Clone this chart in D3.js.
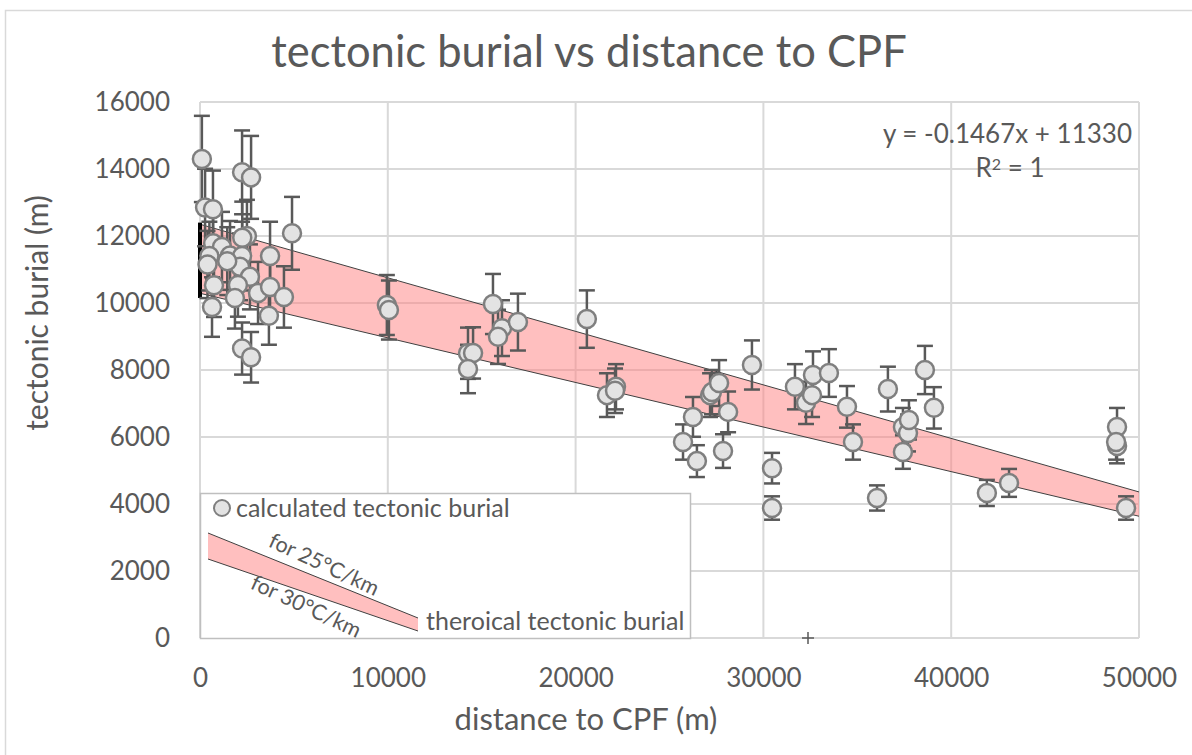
<!DOCTYPE html>
<html><head><meta charset="utf-8">
<script src="https://cdn.jsdelivr.net/npm/d3@7"></script>
<style>html,body{margin:0;padding:0;background:#fff;}svg{display:block;font-family:Lato,"Open Sans",sans-serif;}</style>
</head><body>
<svg id="c" width="1192" height="755"></svg>
<script>
const distance = [100,2240,2720,270,690,2500,2250,4900,700,1170,1600,2240,3730,500,2130,2660,2020,745,3090,3730,4470,1860,640,3670,2240,2720,400,1450,
 9950,10060,14270,14540,14270,15600,16080,15870,16930,20600,21670,22150,22100,25720,26250,26460,27160,27260,27640,28120,27850,29390,30460,30460,
 31680,32270,32590,32640,33490,34450,34770,36050,36630,37430,37700,37750,37430,38600,39080,41900,43080,48830,48830,48780,49310];
const burial = [14300,13900,13750,12850,12800,12000,11950,12080,11780,11670,11420,11400,11400,11400,11080,10780,10540,10530,10300,10480,10180,10150,9880,9620,8640,8380,11150,11250,
 9940,9790,8500,8510,8030,9970,9250,8990,9430,9520,7250,7500,7380,5850,6600,5280,7250,7340,7610,6750,5580,8150,5070,3880,
 7500,7020,7250,7850,7910,6900,5850,4180,7430,6300,6120,6510,5550,8000,6870,4330,4630,6300,5730,5850,3880];
const errorPercent = 9;
const band25 = [[0,12350],[50000,4360]];   // theoretical, 25°C/km
const band30 = [[0,10290],[50000,3635]];   // theoretical, 30°C/km
const xTicks = [0,10000,20000,30000,40000,50000];
const yTicks = [0,2000,4000,6000,8000,10000,12000,14000,16000];
const blackBar = [[0,10150],[0,12400]];
const plusMark = [[32375,0]];

const svg = d3.select("#c");
const x = d3.scaleLinear().domain([0,50000]).range([200,1139]);
const y = d3.scaleLinear().domain([0,16000]).range([638,102]);
const grey = "#595959";

// chart border
svg.append("rect").attr("x",5.5).attr("y",10.5).attr("width",1200).attr("height",760)
  .attr("fill","none").attr("stroke","#d9d9d9").attr("stroke-width",1.5);

// gridlines
svg.append("g").selectAll("line").data(yTicks).join("line")
  .attr("x1",x(0)).attr("x2",x(50000)).attr("y1",d=>y(d)).attr("y2",d=>y(d))
  .attr("stroke","#d9d9d9").attr("stroke-width",2);
svg.append("g").selectAll("line").data(xTicks).join("line")
  .attr("x1",d=>x(d)).attr("x2",d=>x(d)).attr("y1",y(0)).attr("y2",y(16000))
  .attr("stroke","#d9d9d9").attr("stroke-width",2);

// axes labels via d3 axes
const xAxis = svg.append("g").attr("transform",`translate(0,${y(0)})`)
  .call(d3.axisBottom(x).tickValues(xTicks).tickSize(0).tickPadding(28).tickFormat(d3.format("d")));
const yAxis = svg.append("g").attr("transform",`translate(${x(0)},0)`)
  .call(d3.axisLeft(y).tickValues(yTicks).tickSize(0).tickPadding(30).tickFormat(d3.format("d")));
[xAxis,yAxis].forEach(a=>{a.select(".domain").remove();
  a.selectAll("text").attr("fill",grey).style("font-size","26px").style("font-family","Lato,sans-serif");});
xAxis.selectAll("text").attr("dy","0.35em").attr("y",40);

// band
const bandPoly = band25.concat(band30.slice().reverse());
svg.append("path").attr("d",d3.line().x(d=>x(d[0])).y(d=>y(d[1]))(bandPoly)+"Z")
  .attr("fill","rgb(255,128,128)").attr("fill-opacity",0.5);
[band25,band30].forEach(b=>svg.append("path").attr("d",d3.line().x(d=>x(d[0])).y(d=>y(d[1]))(b))
  .attr("stroke","#404040").attr("stroke-width",1).attr("fill","none"));

// black bar
svg.append("path").attr("d",d3.line().x(d=>x(d[0])).y(d=>y(d[1]))(blackBar))
  .attr("stroke","#000").attr("stroke-width",4);

// legend box
const lg = svg.append("g");
lg.append("rect").attr("x",200.5).attr("y",493.5).attr("width",490).attr("height",145)
  .attr("fill","#fff").attr("stroke","#bfbfbf").attr("stroke-width",1.5);

// error bars
const pts = distance.map((d,i)=>({x:d,y:burial[i],e:burial[i]*errorPercent/100}));
const eb = svg.append("g").attr("stroke","#595959").attr("stroke-width",2.5);
pts.forEach(p=>{
  eb.append("line").attr("x1",x(p.x)).attr("x2",x(p.x)).attr("y1",y(p.y-p.e)).attr("y2",y(p.y+p.e));
  [p.y-p.e,p.y+p.e].forEach(v=>eb.append("line").attr("x1",x(p.x)-8).attr("x2",x(p.x)+8).attr("y1",y(v)).attr("y2",y(v)));
});
svg.append("g").selectAll("circle").data(pts).join("circle")
  .attr("cx",d=>x(d.x)).attr("cy",d=>y(d.y)).attr("r",9)
  .attr("fill","#e3e3e3").attr("stroke","#7f7f7f").attr("stroke-width",2.5);

// plus marker
svg.append("g").selectAll("path").data(plusMark).join("path")
  .attr("d",d=>`M${x(d[0])-6},${y(d[1])}h12M${x(d[0])},${y(d[1])-6}v12`)
  .attr("stroke","#595959").attr("stroke-width",1.5);

// legend content
lg.append("circle").attr("cx",222).attr("cy",508).attr("r",8).attr("fill","#e3e3e3").attr("stroke","#7f7f7f").attr("stroke-width",2);
lg.append("text").attr("x",236).attr("y",517).text("calculated tectonic burial").attr("fill",grey).style("font-size","25px");
lg.append("path").attr("d","M208,533L418,618L418,631L208,559Z").attr("fill","rgb(255,128,128)").attr("fill-opacity",0.5);
lg.append("path").attr("d","M208,533L418,618M208,559L418,631").attr("stroke","#404040").attr("stroke-width",1).attr("fill","none");
lg.append("text").attr("transform","translate(321,571) rotate(25)").attr("text-anchor","middle").text("for 25°C/km").attr("fill",grey).style("font-size","21.5px");
lg.append("text").attr("transform","translate(303,613) rotate(25)").attr("text-anchor","middle").text("for 30°C/km").attr("fill",grey).style("font-size","21.5px");
lg.append("text").attr("x",426).attr("y",630).text("theroical tectonic burial").attr("fill",grey).style("font-size","25px");

// equation
svg.append("text").attr("x",1132).attr("y",143).attr("text-anchor","end").text("y = -0.1467x + 11330").attr("fill",grey).style("font-size","26px");
svg.append("text").attr("x",1010).attr("y",177).attr("text-anchor","middle").attr("fill",grey).style("font-size","26px")
  .html('R<tspan dy="-7" font-size="16px">2</tspan><tspan dy="7"> = 1</tspan>');

// titles
svg.append("text").attr("x",589).attr("y",67).attr("text-anchor","middle").text("tectonic burial vs distance to CPF").attr("fill",grey).style("font-size","43.5px");
svg.append("text").attr("x",586).attr("y",730).attr("text-anchor","middle").text("distance to CPF (m)").attr("fill",grey).style("font-size","31px");
svg.append("text").attr("transform","translate(48,313) rotate(-90)").attr("text-anchor","middle").text("tectonic burial (m)").attr("fill",grey).style("font-size","30px");
</script>
</body></html>
